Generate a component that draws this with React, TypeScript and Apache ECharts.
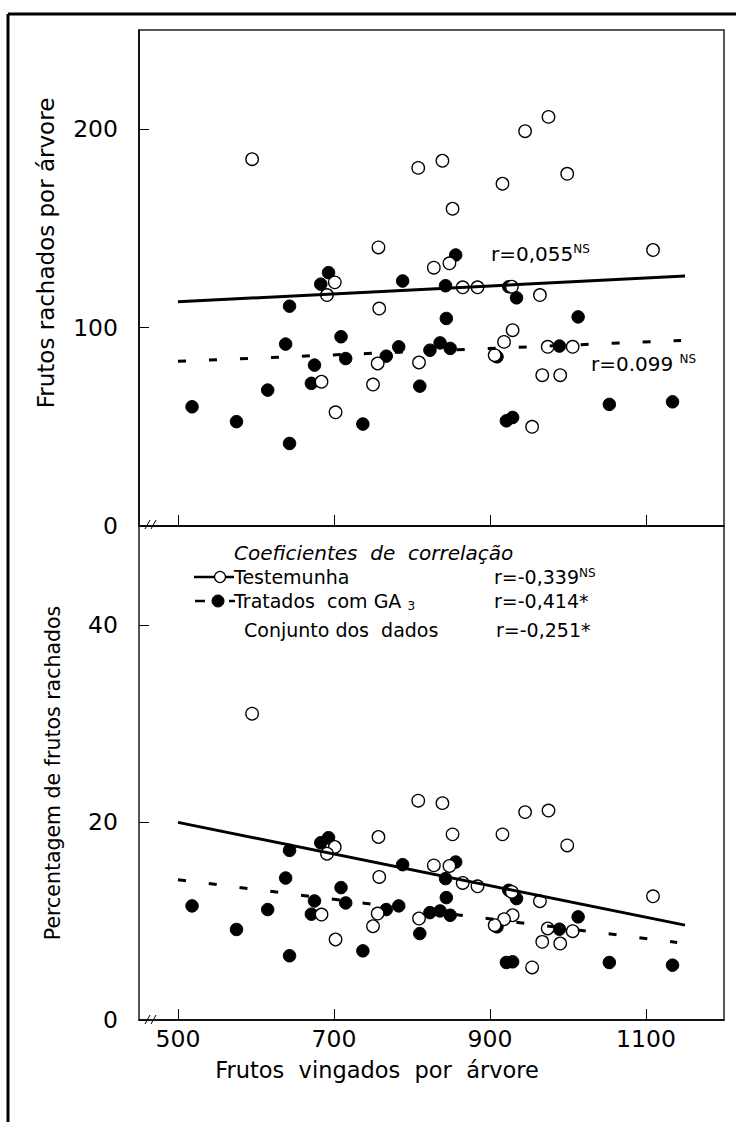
import React, { useEffect, useRef } from "react";
import * as echarts from "echarts";

const FONT = "DejaVu Sans";

// Axis ticks
const xTicks = [500, 700, 900, 1100];
const yTicksTop = [0, 100, 200];
const yTicksBottom = [0, 20, 40];

// Testemunha (open circles)
const testemunhaVingados = [595, 808, 839, 945, 975, 999, 916, 852, 757, 1109, 828, 848, 701, 691, 865, 884, 928, 964, 758, 929, 918, 906, 974, 1006, 756, 809, 684, 750, 967, 990, 702, 954];
const testemunhaRachados = [184.9, 180.5, 184.1, 199.0, 206.2, 177.5, 172.5, 159.9, 140.4, 139.1, 130.2, 132.4, 122.8, 116.4, 120.3, 120.3, 120.6, 116.4, 109.6, 98.7, 92.8, 86.1, 90.3, 90.3, 81.9, 82.4, 72.7, 71.3, 76.0, 76.0, 57.3, 50.0];
const testemunhaPercent = [31.0, 22.2, 21.95, 21.04, 21.2, 17.67, 18.79, 18.79, 18.52, 12.52, 15.65, 15.59, 17.51, 16.83, 13.87, 13.53, 12.96, 12.02, 14.48, 10.6, 10.2, 9.6, 9.26, 8.99, 10.77, 10.27, 10.67, 9.49, 7.91, 7.74, 8.15, 5.32];

// Tratados com GA3 (filled circles)
const tratadosVingados = [856, 693, 683, 788, 843, 924, 934, 643, 844, 1013, 709, 638, 783, 836, 849, 823, 767, 715, 675, 909, 989, 671, 615, 810, 518, 575, 737, 643, 921, 929, 1053, 1134];
const tratadosRachados = [136.6, 127.7, 121.9, 123.5, 121.1, 120.6, 115.0, 110.8, 104.6, 105.4, 95.4, 91.7, 90.3, 92.3, 89.5, 88.6, 85.6, 84.4, 81.1, 85.3, 90.7, 71.9, 68.5, 70.5, 60.1, 52.6, 51.4, 41.6, 53.0, 54.7, 61.3, 62.6];
const tratadosPercent = [15.99, 18.45, 17.94, 15.72, 14.31, 13.13, 12.29, 17.17, 12.39, 10.44, 13.4, 14.37, 11.55, 11.04, 10.6, 10.87, 11.18, 11.85, 12.05, 9.43, 9.19, 10.71, 11.18, 8.75, 11.55, 9.16, 7.0, 6.5, 5.82, 5.89, 5.82, 5.55];

// Fitted lines (end points)
const retaTestemunhaTop = [[500, 113], [1150, 126]];
const retaTratadosTop = [[500, 83], [1145, 93.5]];
const retaTestemunhaBottom = [[500, 20.0], [1150, 9.6]];
const retaTratadosBottom = [[500, 14.2], [1140, 7.85]];

const zip = (xs: number[], ys: number[]) => xs.map((x, i) => [x, ys[i]]);

export default function App() {
  const ref = useRef<HTMLDivElement>(null);
  useEffect(() => {
    const chart = echarts.init(ref.current!, null, { renderer: "svg" });
    const txt = { fontFamily: FONT, color: "#000" };
    const plain = (v: number) => String(v);
    const solid = { color: "#000", width: 3, type: "solid" as const };
    const dashed = { color: "#000", width: 3, type: [8, 23] };
    const openItem = { color: "#fff", borderColor: "#000", borderWidth: 1.3, opacity: 1 };
    const fillItem = { color: "#000", borderColor: "#000", borderWidth: 1, opacity: 1 };
    const gText = (x: number, y: number, text: string, size: number, extra: any = {}) => ({
      type: "text",
      x,
      y,
      silent: true,
      style: {
        text,
        fontSize: size,
        fontFamily: FONT,
        fill: "#000",
        align: "left",
        verticalAlign: "middle",
        textAlign: "left",
        textVerticalAlign: "middle",
        ...extra,
      },
    });
    const supRich = (size: number) => ({
      a: { fontSize: size, fontFamily: FONT, fill: "#000", color: "#000", lineHeight: size + 2 },
      s: { fontSize: 12, fontFamily: FONT, fill: "#000", color: "#000", verticalAlign: "top" },
      b: { fontSize: 12, fontFamily: FONT, fill: "#000", color: "#000", verticalAlign: "bottom" },
    });
    const line = (x1: number, y1: number, x2: number, y2: number, w: number, color = "#000") => ({
      type: "line",
      silent: true,
      shape: { x1, y1, x2, y2 },
      style: { stroke: color, lineWidth: w },
    });

    const option: any = {
      animation: false,
      backgroundColor: "#fff",
      grid: [
        { left: 139, top: 30, width: 585, height: 496, show: true, borderColor: "#222", borderWidth: 1.5 },
        { left: 139, top: 526, width: 585, height: 494, show: true, borderColor: "#222", borderWidth: 1.5 },
      ],
      xAxis: [
        {
          gridIndex: 0,
          type: "value",
          min: 450,
          max: 1200,
          axisLine: { lineStyle: { color: "#000", width: 1.5 } },
          axisTick: { inside: true, length: 11, customValues: xTicks, lineStyle: { color: "#000", width: 1 } },
          axisLabel: { show: false },
          splitLine: { show: false },
        },
        {
          gridIndex: 1,
          type: "value",
          min: 450,
          max: 1200,
          axisLine: { lineStyle: { color: "#000", width: 1.5 } },
          axisTick: { inside: true, length: 11, customValues: xTicks, lineStyle: { color: "#000", width: 1 } },
          axisLabel: { customValues: xTicks, formatter: plain, fontSize: 23.5, margin: 7, ...txt },
          splitLine: { show: false },
          name: "Frutos  vingados  por  árvore",
          nameLocation: "middle",
          nameGap: 38,
          nameTextStyle: { fontSize: 22.5, padding: [0, 109, 0, 0], ...txt },
        },
      ],
      yAxis: [
        {
          gridIndex: 0,
          type: "value",
          min: 0,
          max: 250,
          axisLine: { lineStyle: { color: "#000", width: 1.5 } },
          axisTick: { inside: true, length: 10, customValues: yTicksTop, lineStyle: { color: "#000", width: 1 } },
          axisLabel: { customValues: yTicksTop, formatter: plain, fontSize: 23.5, margin: 21, ...txt },
          splitLine: { show: false },
          name: "Frutos rachados por árvore",
          nameLocation: "middle",
          nameGap: 82,
          nameTextStyle: { fontSize: 23, padding: [0, 0, 0, 50], ...txt },
        },
        {
          gridIndex: 1,
          type: "value",
          min: 0,
          max: 50,
          axisLine: { lineStyle: { color: "#555", width: 1.5 } },
          axisTick: { inside: true, length: 10, customValues: yTicksBottom, lineStyle: { color: "#000", width: 1 } },
          axisLabel: { customValues: yTicksBottom, formatter: plain, fontSize: 23.5, margin: 21, ...txt },
          splitLine: { show: false },
          name: "Percentagem de frutos rachados",
          nameLocation: "middle",
          nameGap: 75.5,
          nameTextStyle: { fontSize: 20.5, ...txt },
        },
      ],
      series: [
        { name: "Reta Testemunha", type: "line", xAxisIndex: 0, yAxisIndex: 0, data: retaTestemunhaTop, showSymbol: false, symbol: "none", lineStyle: solid, silent: true },
        { name: "Reta Tratados", type: "line", xAxisIndex: 0, yAxisIndex: 0, data: retaTratadosTop, showSymbol: false, symbol: "none", lineStyle: dashed, silent: true },
        { name: "Reta Testemunha %", type: "line", xAxisIndex: 1, yAxisIndex: 1, data: retaTestemunhaBottom, showSymbol: false, symbol: "none", lineStyle: solid, silent: true },
        { name: "Reta Tratados %", type: "line", xAxisIndex: 1, yAxisIndex: 1, data: retaTratadosBottom, showSymbol: false, symbol: "none", lineStyle: dashed, silent: true },
        { name: "Tratados com GA3", type: "scatter", xAxisIndex: 0, yAxisIndex: 0, data: zip(tratadosVingados, tratadosRachados), symbol: "circle", symbolSize: 12.5, itemStyle: fillItem },
        { name: "Testemunha", type: "scatter", xAxisIndex: 0, yAxisIndex: 0, data: zip(testemunhaVingados, testemunhaRachados), symbol: "circle", symbolSize: 12.5, itemStyle: openItem },
        { name: "Tratados com GA3 %", type: "scatter", xAxisIndex: 1, yAxisIndex: 1, data: zip(tratadosVingados, tratadosPercent), symbol: "circle", symbolSize: 12.5, itemStyle: fillItem },
        { name: "Testemunha %", type: "scatter", xAxisIndex: 1, yAxisIndex: 1, data: zip(testemunhaVingados, testemunhaPercent), symbol: "circle", symbolSize: 12.5, itemStyle: openItem },
      ],
      graphic: [
        // outer frame
        line(8, 14, 736, 14, 3),
        line(8, 14, 8, 1122, 3),
        // axis break marks
        line(145, 529, 150, 520, 1),
        line(151, 529, 156, 520, 1),
        line(145, 1024, 150, 1015, 1),
        line(151, 1024, 156, 1015, 1),
        // legend
        gText(234, 553, "Coeficientes  de  correlação", 20, { fontStyle: "italic" }),
        line(194, 577, 234, 577, 2.5),
        { type: "circle", silent: true, shape: { cx: 220, cy: 577, r: 5.5 }, style: { fill: "#fff", stroke: "#000", lineWidth: 1.3 } },
        gText(234, 577, "Testemunha", 19),
        line(195, 601, 205, 601, 2.5),
        line(229, 601, 235, 601, 2.5),
        { type: "circle", silent: true, shape: { cx: 218, cy: 601, r: 6 }, style: { fill: "#000", stroke: "#000", lineWidth: 1 } },
        gText(234, 601, "{a|Tratados  com GA }{b|3}", 19, { rich: supRich(19) }),
        gText(244, 630, "Conjunto dos  dados", 19),
        gText(494, 577, "{a|r=-0,339}{s|NS}", 19, { rich: supRich(19) }),
        gText(494, 601, "r=-0,414*", 19),
        gText(496, 630, "r=-0,251*", 19),
        // annotations in the top panel
        gText(491, 254, "{a|r=0,055}{s|NS}", 20, { rich: supRich(20) }),
        gText(591, 364, "{a|r=0.099 }{s|NS}", 20, { rich: supRich(20) }),
      ],
    };
    chart.setOption(option);
    return () => chart.dispose();
  }, []);
  return (
    <div
      ref={ref}
      style={{ position: "fixed", left: 0, top: 0, width: 736, height: 1122, background: "#fff" }}
    />
  );
}
